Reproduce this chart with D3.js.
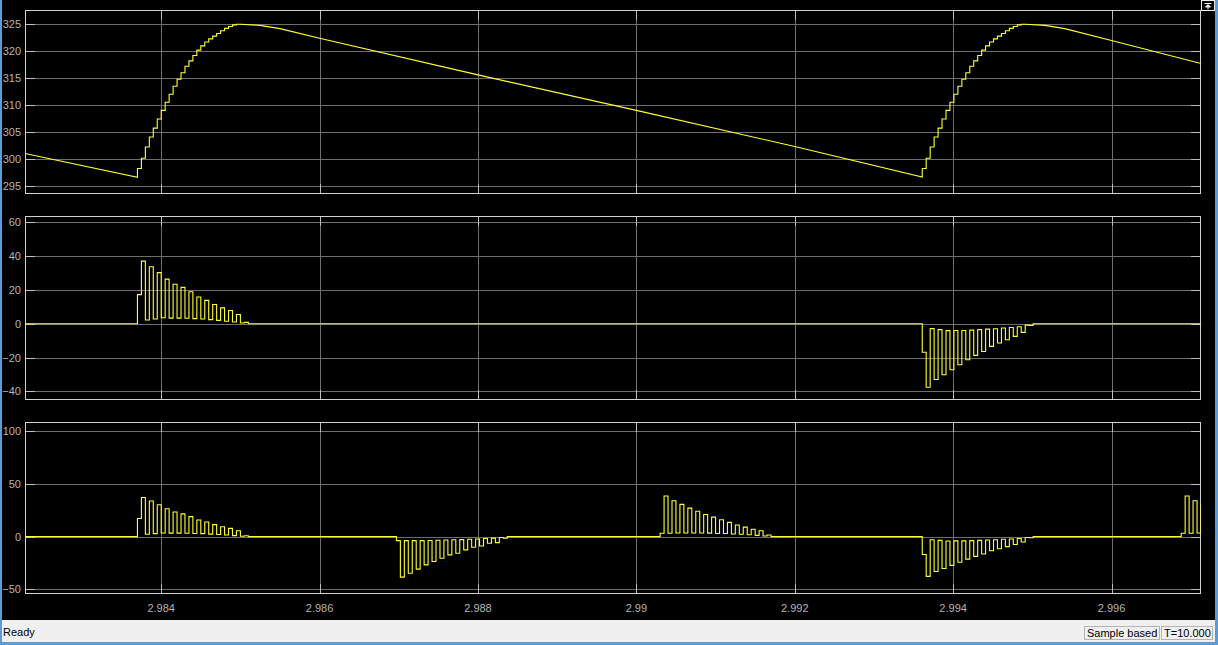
<!DOCTYPE html>
<html>
<head>
<meta charset="utf-8">
<title>Scope</title>
<script src="https://d3js.org/d3.v7.min.js"></script>
<style>
  body { margin: 0; background: #000; overflow: hidden; }
  svg { display: block; font-family: "Liberation Sans", Arial, sans-serif; }
</style>
</head>
<body>
<script>
let width = 1218;
let height = 645;

// time axis
let tStart = 2.98228;
let tEnd = 2.99713;
let sampleTime = 5e-5;
let xTicks = [2.984, 2.986, 2.988, 2.99, 2.992, 2.994, 2.996];
let xTickLabels = ['2.984', '2.986', '2.988', '2.99', '2.992', '2.994', '2.996'];

// y ticks per panel
let vTicks = [295, 300, 305, 310, 315, 320, 325];
let iTicks = [-40, -20, 0, 20, 40, 60];
let sumTicks = [-50, 0, 50, 100];

// panel 1: voltage (stepped rise, then decay)
let riseTimes = [2.98370, 2.99361];
let riseSteps = [298.2, 300.1, 302.2, 304.05, 305.7, 307.4, 309.0, 310.5, 312.0, 313.5,
                 314.8, 316.0, 317.2, 318.2, 319.2, 320.2, 321.0, 321.7, 322.3, 322.8,
                 323.3, 323.8, 324.25, 324.6, 324.9, 325.0];
let leadDecay = [[2.98228, 301.0], [2.98370, 296.55]];
let decay1 = [[2.98500, 325.0], [2.98525, 324.8], [2.98550, 324.2], [2.98600, 322.4],
              [2.98800, 315.6], [2.99000, 309.0], [2.99200, 302.3], [2.99361, 296.6]];
let decay2 = [[2.99491, 325.0], [2.99516, 324.8], [2.99541, 324.2], [2.99600, 322.0],
              [2.99713, 317.7]];

// panel 2 / 3: current pulse trains (one value per sample)
let posTrain = [17.2, 37.0, 2.2, 33.7, 2.8, 30.2, 3.5, 26.4, 3.3, 23.3, 3.3, 21.5, 3.2, 18.9,
                3.0, 15.8, 2.8, 13.8, 2.4, 11.4, 2.0, 9.4, 1.5, 7.8, 1.0, 5.5, 0.4, 0.8];
let negTrain = [-16.9, -37.6, -2.9, -33.0, -3.5, -30.2, -4.1, -27.2, -4.0, -24.3, -4.0, -21.3,
                -3.8, -18.7, -3.5, -16.4, -3.2, -13.4, -3.0, -11.4, -2.5, -9.5, -2.2, -7.5,
                -1.8, -5.1, -0.8, -1.0];
let negTrainSum = [-3.8, -38.3, -3.8, -34.6, -3.8, -30.8, -3.8, -26.7, -3.6, -23.6, -3.4, -20.4,
                   -3.2, -17.3, -3.0, -15.7, -2.8, -12.5, -2.5, -10.0, -2.2, -8.8, -1.8, -6.3,
                   -1.4, -5.7, -0.8, -1.6];
let posTrainSum = [3.2, 38.4, 3.2, 34.0, 3.5, 30.5, 3.5, 27.0, 3.5, 24.0, 3.5, 21.0, 3.3, 18.5,
                   3.0, 16.0, 3.0, 13.5, 2.5, 11.0, 2.2, 9.0, 1.8, 7.0, 1.2, 5.5, 0.6, 1.5];

let phaseTrains = [[2.98370, posTrain], [2.99361, negTrain]];
let sumTrains = [[2.98370, posTrain], [2.98697, negTrainSum], [2.99030, posTrainSum],
                 [2.99361, negTrain], [2.99688, posTrainSum]];

function stairs(start, values, from, out) {
    let prev = from;
    values.forEach((v, k) => {
        let t = start + k * sampleTime;
        out.push([t, prev], [t, v]);
        prev = v;
    });
    return prev;
}

function trainPoints(trains) {
    let pts = [[tStart, 0]];
    trains.forEach(([start, values]) => {
        let last = stairs(start, values, 0, pts);
        let tEndTrain = start + values.length * sampleTime;
        pts.push([tEndTrain, last], [tEndTrain, 0]);
    });
    pts.push([tEnd, 0]);
    return pts;
}

let vPts = leadDecay.slice();
stairs(riseTimes[0], riseSteps, 296.55, vPts);
vPts = vPts.concat(decay1);
stairs(riseTimes[1], riseSteps, 296.6, vPts);
vPts = vPts.concat(decay2);

let panels = [
    {top: 10, bottom: 194, domain: [293.46, 327.66], ticks: vTicks, pts: vPts},
    {top: 216, bottom: 400, domain: [-45.1, 63.7], ticks: iTicks, pts: trainPoints(phaseTrains)},
    {top: 422, bottom: 594, domain: [-54.3, 108.5], ticks: sumTicks, pts: trainPoints(sumTrains)}
];

let left = 25, right = 1201;

let svg = d3.select('body')
    .append('svg')
    .attr('width', width)
    .attr('height', height);

svg.append('rect').attr('x', 0).attr('y', 0).attr('width', width).attr('height', height).attr('fill', '#000');

let x = d3.scaleLinear().domain([tStart, tEnd]).range([left, right]);

panels.forEach((p, i) => {
    let y = d3.scaleLinear().domain(p.domain).range([p.bottom, p.top]);
    let g = svg.append('g');

    g.append('clipPath').attr('id', 'clip' + i)
        .append('rect').attr('x', left).attr('y', p.top)
        .attr('width', right - left).attr('height', p.bottom - p.top);

    // grid
    g.selectAll('.hgrid').data(p.ticks).enter().append('line')
        .attr('x1', left).attr('x2', right)
        .attr('y1', d => Math.round(y(d)) + 0.5).attr('y2', d => Math.round(y(d)) + 0.5)
        .attr('stroke', '#6e6e6e');
    g.selectAll('.vgrid').data(xTicks).enter().append('line')
        .attr('x1', d => Math.round(x(d)) + 0.5).attr('x2', d => Math.round(x(d)) + 0.5)
        .attr('y1', p.top).attr('y2', p.bottom)
        .attr('stroke', '#6e6e6e');

    // inner tick marks
    p.ticks.forEach(d => {
        let yy = Math.round(y(d)) + 0.5;
        g.append('line').attr('x1', left).attr('x2', left + 10).attr('y1', yy).attr('y2', yy).attr('stroke', '#bdbdbd');
        g.append('line').attr('x1', right - 10).attr('x2', right).attr('y1', yy).attr('y2', yy).attr('stroke', '#bdbdbd');
    });
    xTicks.forEach(d => {
        let xx = Math.round(x(d)) + 0.5;
        g.append('line').attr('x1', xx).attr('x2', xx).attr('y1', p.bottom - 10).attr('y2', p.bottom).attr('stroke', '#bdbdbd');
        g.append('line').attr('x1', xx).attr('x2', xx).attr('y1', p.top).attr('y2', p.top + 10).attr('stroke', '#bdbdbd');
    });

    // frame
    g.append('rect').attr('x', left + 0.5).attr('y', p.top + 0.5)
        .attr('width', right - left - 1).attr('height', p.bottom - p.top - 1)
        .attr('fill', 'none').attr('stroke', '#d2d2d2');

    // y labels
    let yAxis = d3.axisLeft(y).tickValues(p.ticks).tickSize(0).tickPadding(4);
    let ya = g.append('g').attr('transform', `translate(${left},0)`).call(yAxis);
    ya.select('.domain').remove();
    ya.selectAll('text').attr('fill', '#b4b4b4').style('font-size', '11px')
        .style('font-family', '"Liberation Sans", Arial, sans-serif');

    // signal
    let line = d3.line().x(d => x(d[0])).y(d => y(d[1]));
    g.append('path').datum(p.pts)
        .attr('clip-path', `url(#clip${i})`)
        .attr('d', line)
        .attr('fill', 'none')
        .attr('stroke', '#ffff33')
        .attr('stroke-width', 1.1);
});

// x labels under last panel
svg.selectAll('.xlab').data(xTicks).enter().append('text')
    .attr('x', d => x(d)).attr('y', 611.5)
    .attr('text-anchor', 'middle')
    .attr('fill', '#b4b4b4')
    .style('font-size', '11px')
    .text((d, i) => xTickLabels[i]);

// undock button, top right
svg.append('rect').attr('x', 1201.5).attr('y', 0.5).attr('width', 13).attr('height', 10)
    .attr('fill', '#000').attr('stroke', '#f0f0f0');
svg.append('path').attr('d', 'M1204.5,3.5 L1211.5,3.5 M1208,4.5 L1205.5,7 L1210.5,7 Z M1208,7 L1208,9.5')
    .attr('stroke', '#f0f0f0').attr('fill', '#f0f0f0');

// status bar
svg.append('rect').attr('x', 0).attr('y', 620).attr('width', width).attr('height', 25).attr('fill', '#f0f0f0');
svg.append('text').attr('x', 3).attr('y', 636).attr('fill', '#000').style('font-size', '11px').text('Ready');
svg.append('rect').attr('x', 1084.5).attr('y', 626.5).attr('width', 75).attr('height', 13)
    .attr('fill', 'none').attr('stroke', '#b4b4b4');
svg.append('text').attr('x', 1087).attr('y', 636.5).attr('fill', '#000').style('font-size', '11px').text('Sample based');
svg.append('rect').attr('x', 1161.5).attr('y', 626.5).attr('width', 51).attr('height', 13)
    .attr('fill', 'none').attr('stroke', '#b4b4b4');
svg.append('text').attr('x', 1164).attr('y', 636.5).attr('fill', '#000').style('font-size', '11px').text('T=10.000');

// window borders
svg.append('rect').attr('x', 0).attr('y', 0).attr('width', 2).attr('height', height).attr('fill', '#5c9bd6');
svg.append('rect').attr('x', 1215).attr('y', 0).attr('width', 3).attr('height', height).attr('fill', '#5c9bd6');
svg.append('rect').attr('x', 0).attr('y', 642).attr('width', width).attr('height', 3).attr('fill', '#5c9bd6');
</script>
</body>
</html>
